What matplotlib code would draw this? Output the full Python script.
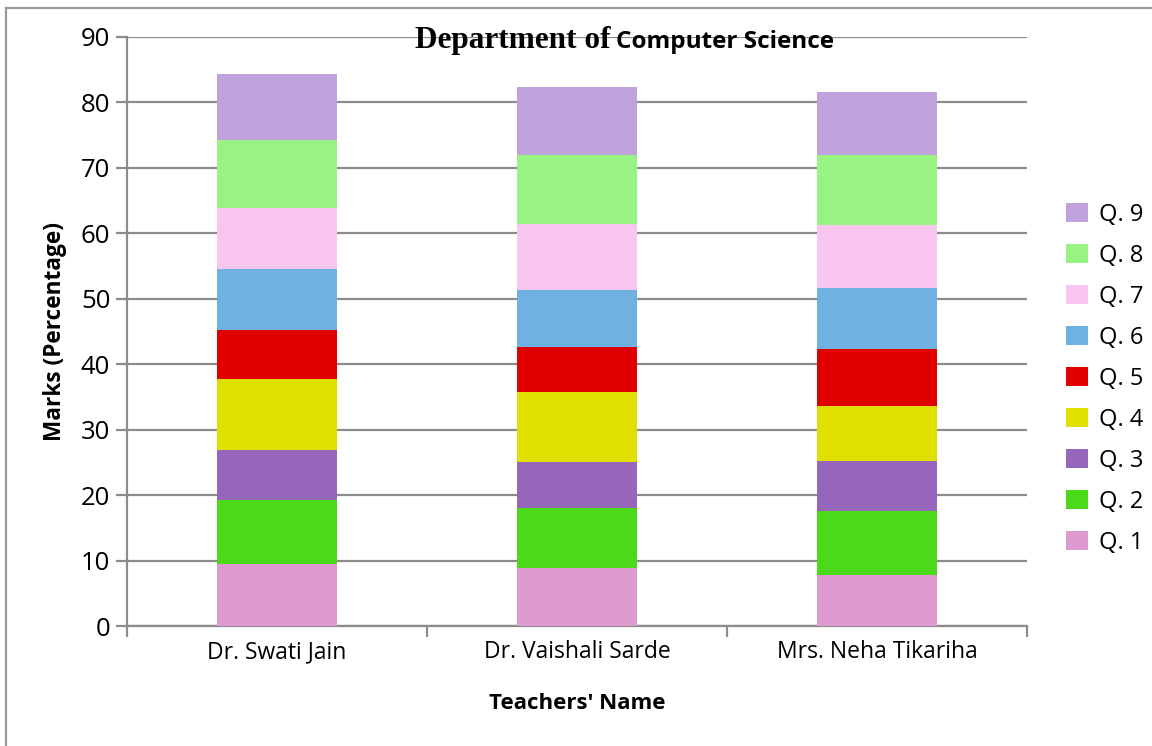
import numpy as np
import matplotlib
matplotlib.use("Agg")
import matplotlib.pyplot as plt
from matplotlib.lines import Line2D

teachers = ["Dr. Swati Jain", "Dr. Vaishali Sarde", "Mrs. Neha Tikariha"]
questions = ["Q. 1", "Q. 2", "Q. 3", "Q. 4", "Q. 5", "Q. 6", "Q. 7", "Q. 8", "Q. 9"]

# marks per question (rows) for each teacher (columns)
q1 = [9.4, 8.8, 7.8]
q2 = [9.9, 9.3, 9.8]
q3 = [7.6, 7.0, 7.6]
q4 = [10.8, 10.7, 8.4]
q5 = [7.5, 6.8, 8.8]
q6 = [9.3, 8.8, 9.3]
q7 = [9.3, 10.1, 9.6]
q8 = [10.4, 10.4, 10.6]
q9 = [10.1, 10.5, 9.7]

colors = ["#DD9ACE", "#4CD91A", "#9566BA", "#E0E000", "#E00000",
          "#6FB1E1", "#F8C5EE", "#98F383", "#C0A2DD"]

plt.rcParams['font.family'] = ['Open Sans', 'DejaVu Sans']

fig = plt.figure(figsize=(11.52, 7.46), dpi=100)
ax = fig.add_axes([127 / 1152, 120 / 746, 900 / 1152, 589 / 746])

x = np.arange(len(teachers))
bottom = np.zeros(len(teachers))
handles = []
for vals, lab, col in zip([q1, q2, q3, q4, q5, q6, q7, q8, q9], questions, colors):
    b = ax.bar(x, vals, 0.4, bottom=bottom, color=col, label=lab, zorder=3)
    bottom += np.array(vals)
    handles.append(b)

grid_c = "#8c8c8c"
ax.set_xlim(-0.5, 2.5)
ax.set_ylim(0, 90)
ax.set_yticks(range(0, 91, 10))
ax.yaxis.grid(True, color=grid_c, linewidth=1.6, zorder=0)
ax.set_axisbelow(True)
for s in ["top", "right"]:
    ax.spines[s].set_visible(False)
for s in ["left", "bottom"]:
    ax.spines[s].set_color(grid_c)
    ax.spines[s].set_linewidth(1.6)

ax.set_xticks(x)
ax.set_xticklabels(teachers, fontsize=16.5)
ax.tick_params(axis='x', which='major', length=0, pad=10)
ax.set_xticks([-0.5, 0.5, 1.5, 2.5], minor=True)
ax.tick_params(axis='x', which='minor', length=8, width=1.6, color=grid_c, direction='out')
ax.tick_params(axis='y', length=8, width=1.6, color=grid_c, labelsize=18.5, pad=4)

ax.set_xlabel("Teachers' Name", fontsize=16, fontweight='bold', labelpad=21)
ax.set_ylabel("Marks (Percentage)", fontsize=16.3, fontweight='bold', labelpad=10)

# title: serif part and sans part, on a shared baseline
t1 = fig.text(0.3603, 0.935, "Department of", fontsize=22.5, fontweight='bold',
              family='Liberation Serif', ha='left', va='baseline')
fig.canvas.draw()
bb = t1.get_window_extent()
fig.text(bb.x1 / 1152 + 0.005, 0.935, "Computer Science", fontsize=17.5,
         fontweight='bold', ha='left', va='baseline')

leg = ax.legend(handles[::-1], questions[::-1], loc='center left',
                bbox_to_anchor=(1.02, 0.42), frameon=False, fontsize=17,
                handlelength=0.9, handleheight=0.9, labelspacing=0.72,
                handletextpad=0.5)

# outer frame edges
fig.add_artist(Line2D([6 / 1152, 6 / 1152], [0, 1 - 8 / 746], color="#999999", lw=1.6))
fig.add_artist(Line2D([6 / 1152, 1], [1 - 8 / 746, 1 - 8 / 746], color="#999999", lw=1.6))

fig.savefig("out.png", dpi=100)
